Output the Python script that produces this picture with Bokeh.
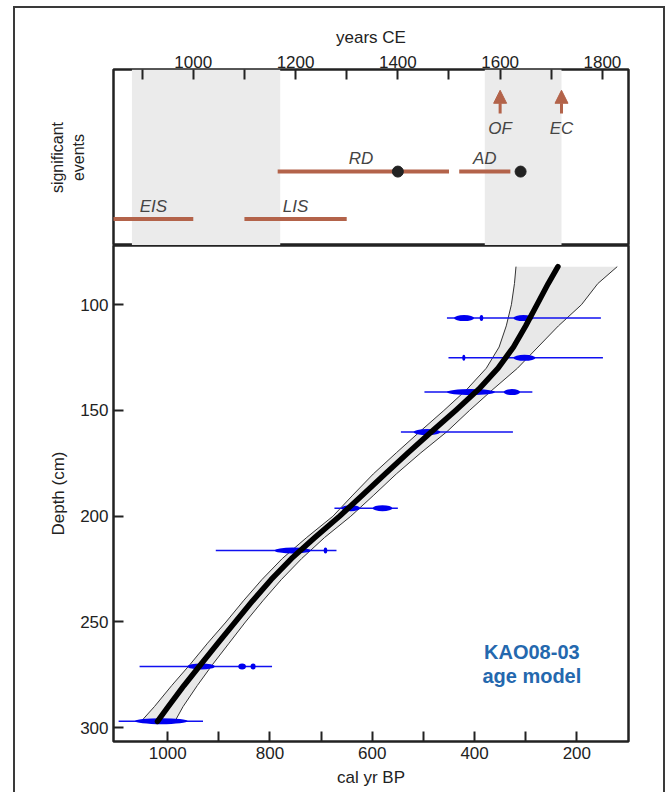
from bokeh.plotting import figure
from bokeh.layouts import column
from bokeh.models import (Range1d, FixedTicker, BoxAnnotation, Arrow, NormalHead,
                          ColumnDataSource, InlineStyleSheet)
from bokeh.core.properties import value
from bokeh.embed import file_html
from bokeh.resources import INLINE

FONT = "Liberation Sans"
BROWN = "#B3634A"
TXT = "#222222"

# ---------------- top panel data (years CE) ----------------
shade_start = [880, 1570]
shade_end = [1170, 1720]

period_names = ["EIS", "LIS", "RD", "AD"]
period_start = [800, 1100, 1165, 1520]
period_end = [1000, 1300, 1500, 1620]
period_row = [1.5, 1.5, 4.2, 4.2]
period_label_x = [922, 1200, 1328, 1570]

dot_year = [1400, 1640]
dot_row = [4.2, 4.2]

arrow_names = ["OF", "EC"]
arrow_year = [1600, 1720]
arrow_base_row = 7.5
arrow_tip_row = 8.82
arrow_label_row = 6.64

top_ticks = [1000, 1200, 1400, 1600, 1800]
top_minor = [900, 1100, 1300, 1500, 1700]

# ---------------- bottom panel data (cal yr BP vs depth) ----------------
depth = [82, 90, 100, 110, 120, 130, 140, 150, 160, 170, 180, 190, 200, 210, 220,
         230, 240, 250, 260, 270, 280, 290, 297]
age_mean = [237, 256, 278, 300, 324, 354, 392, 437, 484, 530, 575, 619, 664, 712, 758,
            798, 834, 868, 902, 935, 968, 999, 1020]
age_old = [319, 322, 328, 338, 352, 377, 415, 460, 507, 553, 598, 638, 677, 728, 776,
           816, 852, 886, 922, 956, 992, 1026, 1052]
age_young = [121, 159, 191, 236, 276, 316, 364, 410, 454, 505, 553, 597, 642, 693, 738,
             778, 814, 848, 880, 912, 942, 970, 986]

date_depth = [106.3, 125.1, 141.3, 160.2, 196.2, 216.2, 271.0, 296.9]
date_old = [454, 451, 498, 544, 674, 906, 1055, 1096]
date_young = [153, 149, 287, 325, 550, 670, 796, 931]

peak_depth = [106.3, 106.3, 106.3, 125.1, 125.1, 141.3, 141.3, 160.2, 196.2, 196.2,
              216.2, 216.2, 271.0, 271.0, 271.0, 296.9]
peak_old = [440, 390, 324, 424, 324, 454, 343, 519, 660, 599, 791, 695, 961, 862, 838, 1064]
peak_young = [401, 383, 285, 418, 281, 360, 311, 467, 624, 561, 720, 688, 908, 847, 828, 961]

bottom_ticks = [1000, 800, 600, 400, 200]
bottom_minor = [900, 700, 500, 300]
depth_ticks = [100, 150, 200, 250, 300]

label_age = 288
label_depths = [264.3, 275.3]
label_lines = ["KAO08-03", "age model"]


def style_axis(ax, size="17px"):
    ax.major_label_text_font = FONT
    ax.major_label_text_font_size = size
    ax.major_label_text_color = TXT
    ax.axis_label_text_font = FONT
    ax.axis_label_text_font_size = size
    ax.axis_label_text_font_style = "normal"
    ax.axis_label_text_color = TXT
    ax.axis_line_color = None
    ax.major_tick_line_color = "#222222"
    ax.minor_tick_line_color = "#222222"
    ax.major_tick_line_width = 2
    ax.minor_tick_line_width = 2


# ---------------- top figure ----------------
top = figure(width=669, height=245, x_range=Range1d(844, 1851), y_range=Range1d(0, 10),
             x_axis_location="above", output_backend="svg", toolbar_location=None,
             min_border_left=113, min_border_right=41, min_border_top=69, min_border_bottom=0)
top.xgrid.visible = False
top.ygrid.visible = False
top.outline_line_color = "#222222"
top.outline_line_width = 2.5
top.background_fill_color = "white"

xa = top.xaxis[0]
style_axis(xa)
xa.ticker = FixedTicker(ticks=top_ticks, minor_ticks=top_minor)
xa.major_tick_in = 10
xa.major_tick_out = 0
xa.minor_tick_in = 10
xa.minor_tick_out = 0
xa.major_label_standoff = 2
xa.axis_label = "years CE"
xa.axis_label_standoff = 6

ya = top.yaxis[0]
style_axis(ya, "16px")
ya.ticker = FixedTicker(ticks=[])
ya.major_tick_line_color = None
ya.minor_tick_line_color = None
ya.axis_label = "significant\nevents"
ya.axis_label_standoff = 27

for s, e in zip(shade_start, shade_end):
    top.add_layout(BoxAnnotation(left=s, right=e, fill_color="#EBEBEB", fill_alpha=1.0,
                                 line_color=None, level="underlay"))

psrc = ColumnDataSource(dict(x0=period_start, x1=period_end, y=period_row,
                             lx=period_label_x, ly=[r + 0.72 for r in period_row],
                             name=period_names))
top.segment(x0="x0", y0="y", x1="x1", y1="y", source=psrc, line_color=BROWN,
            line_width=4)
top.text(x="lx", y="ly", text="name", source=psrc, text_font=value(FONT),
         text_font_size="17px", text_font_style="italic", text_color="#444444",
         text_align="center", text_baseline="middle")

top.scatter(dot_year, dot_row, size=11, color="#222222")

for yr in arrow_year:
    top.add_layout(Arrow(end=NormalHead(size=13, fill_color=BROWN, line_color=BROWN),
                         x_start=yr, y_start=arrow_base_row, x_end=yr, y_end=arrow_tip_row,
                         line_color=BROWN, line_width=3))
top.text(x=arrow_year, y=[arrow_label_row] * len(arrow_year), text=arrow_names,
         text_font=value(FONT), text_font_size="17px", text_font_style="italic",
         text_color="#444444", text_align="center", text_baseline="middle")

# ---------------- bottom figure ----------------
bot = figure(width=669, height=547, x_range=Range1d(1106, 99), y_range=Range1d(306.5, 72),
             output_backend="svg", toolbar_location=None,
             min_border_left=113, min_border_right=41, min_border_top=0, min_border_bottom=51)
bot.xgrid.visible = False
bot.ygrid.visible = False
bot.outline_line_color = "#222222"
bot.outline_line_width = 2.5
bot.background_fill_color = "white"

bx = bot.xaxis[0]
style_axis(bx)
bx.ticker = FixedTicker(ticks=bottom_ticks, minor_ticks=bottom_minor)
bx.major_tick_in = 10
bx.major_tick_out = 0
bx.minor_tick_in = 10
bx.minor_tick_out = 0
bx.major_label_standoff = 5
bx.axis_label = "cal yr BP"
bx.axis_label_standoff = 6

by = bot.yaxis[0]
style_axis(by)
by.ticker = FixedTicker(ticks=depth_ticks)
by.major_tick_in = 10
by.major_tick_out = 0
by.minor_tick_line_color = None
by.major_label_standoff = 5
by.axis_label = "Depth (cm)"
by.axis_label_standoff = 9

band_x = age_old + age_young[::-1]
band_y = depth + depth[::-1]
bot.patch(band_x, band_y, fill_color="#E8E8E8", line_color=None)
bot.line(age_old, depth, line_color="#333333", line_width=1)
bot.line(age_young, depth, line_color="#333333", line_width=1)

dsrc = ColumnDataSource(dict(x0=date_old, x1=date_young, y=date_depth))
bot.segment(x0="x0", y0="y", x1="x1", y1="y", source=dsrc, line_color="#1010F0",
            line_width=1.5)
pk_center = [(a + b) / 2 for a, b in zip(peak_old, peak_young)]
pk_width = [abs(a - b) for a, b in zip(peak_old, peak_young)]
bot.ellipse(x=pk_center, y=peak_depth, width=pk_width, height=6, height_units="screen",
            fill_color="#0000F0", line_color=None)

bot.line(age_mean, depth, line_color="black", line_width=5.5, line_cap="round",
         line_join="round")

for txt, d in zip(label_lines, label_depths):
    bot.text(x=[label_age], y=[d], text=[txt], text_font=value(FONT),
             text_font_size="20px", text_font_style="bold", text_color="#2468AE",
             text_align="center", text_baseline="middle")

css = InlineStyleSheet(css="""
:host { position: relative; }
:host::after {
  content: '';
  position: absolute;
  left: 13px; top: 6px; right: 4px; bottom: -20px;
  border: 2px solid #3a3a3a;
  pointer-events: none;
  z-index: 10;
}
""")

layout = column(top, bot, spacing=0, stylesheets=[css])

open("out.html", "w").write(file_html(layout, INLINE))
